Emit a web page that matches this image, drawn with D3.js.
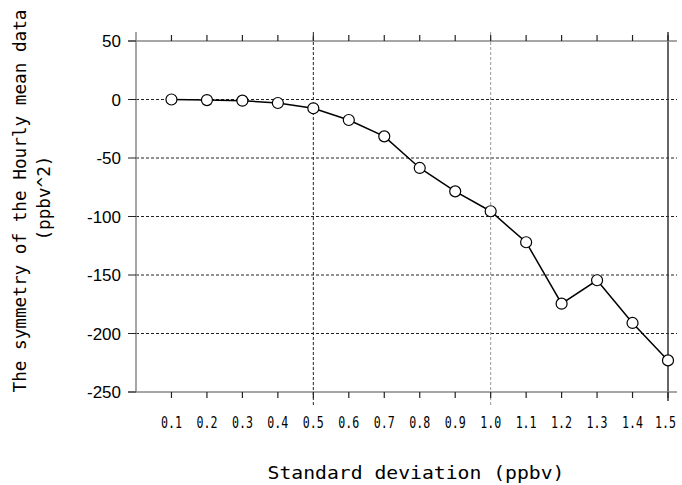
<!DOCTYPE html>
<html>
<head>
<meta charset="utf-8">
<script src="https://cdn.jsdelivr.net/npm/d3@7"></script>
<style>
  html, body { margin: 0; padding: 0; background: #fff; }
  svg { display: block; }
</style>
</head>
<body>
<script>
/* DATA */
var sdValues    = [0.1, 0.2, 0.3, 0.4, 0.5, 0.6, 0.7, 0.8, 0.9, 1.0, 1.1, 1.2, 1.3, 1.4, 1.5];
var symmetry    = [0, -0.5, -1, -3, -7.5, -17.5, -31.5, -58.5, -78.5, -95.5, -122, -174.5, -154.5, -191, -223];
var xTickLabels = ['0.1','0.2','0.3','0.4','0.5','0.6','0.7','0.8','0.9','1.0','1.1','1.2','1.3','1.4','1.5'];
var yTicks      = [50, 0, -50, -100, -150, -200, -250];
var xGrid       = [0.5, 1.0];

/* VARIABLES */
var w = 682, h = 485,
    plotL = 136, plotR = 668, plotT = 41, plotB = 392,
    lineEnd = 677,
    labelLen = 21;

var c = {
  axis:   '#888',
  tick:   '#222',
  grid:   '#222',
  grid2:  '#999',
  line:   '#000',
  text:   '#000',
};
var monoFont = 'DejaVu Sans Mono, Liberation Mono, monospace';

var x = d3.scaleLinear().domain([0, 1.5]).range([plotL, plotR]);
var y = d3.scaleLinear().domain([-250, 50]).range([plotB, plotT]);

var svg = d3.select('body')
            .append('svg')
            .attr('width', w)
            .attr('height', h);

/* GRID */
svg.selectAll('.hgrid')
  .data(yTicks.filter(function(d){ return d < 50 && d > -250; }))
  .enter()
    .append('line')
    .attr('x1', plotL).attr('x2', lineEnd)
    .attr('y1', function(d){ return y(d); })
    .attr('y2', function(d){ return y(d); })
    .attr('stroke', c.grid)
    .attr('stroke-width', 1)
    .attr('stroke-dasharray', '3,2');

svg.selectAll('.vgrid')
  .data(xGrid)
  .enter()
    .append('line')
    .attr('x1', function(d){ return x(d); })
    .attr('x2', function(d){ return x(d); })
    .attr('y1', plotT - 9).attr('y2', plotB + 13)
    .attr('stroke', function(d, i){ return i === 0 ? c.grid : c.grid2; })
    .attr('stroke-width', 1)
    .attr('stroke-dasharray', '3,2');

/* right solid line at 1.5 */
svg.append('line')
  .attr('x1', x(1.5)).attr('x2', x(1.5))
  .attr('y1', plotT - 9).attr('y2', plotB + 9)
  .attr('stroke', '#333')
  .attr('stroke-width', 1.5);

/* AXES FRAME */
svg.append('line')
  .attr('x1', plotL - 8).attr('x2', lineEnd)
  .attr('y1', y(50)).attr('y2', y(50))
  .attr('stroke', c.axis).attr('stroke-width', 1.5);

svg.append('line')
  .attr('x1', plotL - 8).attr('x2', lineEnd)
  .attr('y1', y(-250)).attr('y2', y(-250))
  .attr('stroke', c.axis).attr('stroke-width', 1.5);

svg.append('line')
  .attr('x1', plotL).attr('x2', plotL)
  .attr('y1', plotT - 9).attr('y2', plotB)
  .attr('stroke', c.axis).attr('stroke-width', 1.5);

/* Y TICKS */
svg.selectAll('.ytick')
  .data(yTicks)
  .enter()
    .append('line')
    .attr('x1', plotL - 8).attr('x2', plotL)
    .attr('y1', function(d){ return y(d); })
    .attr('y2', function(d){ return y(d); })
    .attr('stroke', c.tick).attr('stroke-width', 1);

svg.selectAll('.ylabel')
  .data(yTicks)
  .enter()
    .append('text')
    .attr('x', plotL - 15)
    .attr('y', function(d){ return y(d) + 6; })
    .attr('text-anchor', 'end')
    .attr('font-family', 'Liberation Sans, Arial, sans-serif')
    .attr('font-size', 17)
    .attr('fill', c.text)
    .text(function(d){ return d; });

/* X TICKS top and bottom */
svg.selectAll('.xtickTop')
  .data(sdValues)
  .enter()
    .append('line')
    .attr('x1', function(d){ return x(d); })
    .attr('x2', function(d){ return x(d); })
    .attr('y1', plotT - 6).attr('y2', plotT)
    .attr('stroke', c.tick).attr('stroke-width', 1.2);

svg.selectAll('.xtickBottom')
  .data(sdValues)
  .enter()
    .append('line')
    .attr('x1', function(d){ return x(d); })
    .attr('x2', function(d){ return x(d); })
    .attr('y1', plotB).attr('y2', plotB + 6)
    .attr('stroke', c.tick).attr('stroke-width', 1.2);

// keep the last label inside the page
svg.selectAll('.xlabel')
  .data(sdValues)
  .enter()
    .append('text')
    .attr('x', function(d){ return Math.min(x(d), w - 6 - labelLen / 2); })
    .attr('y', 428)
    .attr('text-anchor', 'middle')
    .attr('font-family', monoFont)
    .attr('font-size', 16.5)
    .attr('textLength', labelLen)
    .attr('lengthAdjust', 'spacingAndGlyphs')
    .attr('fill', c.text)
    .text(function(d, i){ return xTickLabels[i]; });

/* LINE + MARKERS */
var pts = sdValues.map(function(d, i){ return [d, symmetry[i]]; });

svg.append('path')
  .datum(pts)
  .attr('d', d3.line()
    .x(function(d){ return x(d[0]); })
    .y(function(d){ return y(d[1]); }))
  .attr('fill', 'none')
  .attr('stroke', c.line)
  .attr('stroke-width', 1.5);

svg.selectAll('.pt')
  .data(pts)
  .enter()
    .append('circle')
    .attr('cx', function(d){ return x(d[0]); })
    .attr('cy', function(d){ return y(d[1]); })
    .attr('r', 5.5)
    .attr('fill', '#fff')
    .attr('stroke', c.line)
    .attr('stroke-width', 1.2);

/* TITLES */
svg.append('text')
  .attr('x', 416)
  .attr('y', 479)
  .attr('text-anchor', 'middle')
  .attr('font-family', monoFont)
  .attr('font-size', 18)
  .attr('textLength', 297)
  .attr('lengthAdjust', 'spacingAndGlyphs')
  .attr('fill', c.text)
  .text('Standard deviation (ppbv)');

svg.append('text')
  .attr('transform', 'translate(26,201) rotate(-90)')
  .attr('text-anchor', 'middle')
  .attr('font-family', monoFont)
  .attr('font-size', 18)
  .attr('textLength', 383)
  .attr('lengthAdjust', 'spacingAndGlyphs')
  .attr('fill', c.text)
  .text('The symmetry of the Hourly mean data');

svg.append('text')
  .attr('transform', 'translate(50,198) rotate(-90)')
  .attr('text-anchor', 'middle')
  .attr('font-family', monoFont)
  .attr('font-size', 18)
  .attr('textLength', 85)
  .attr('lengthAdjust', 'spacingAndGlyphs')
  .attr('fill', c.text)
  .text('(ppbv^2)');
</script>
</body>
</html>
